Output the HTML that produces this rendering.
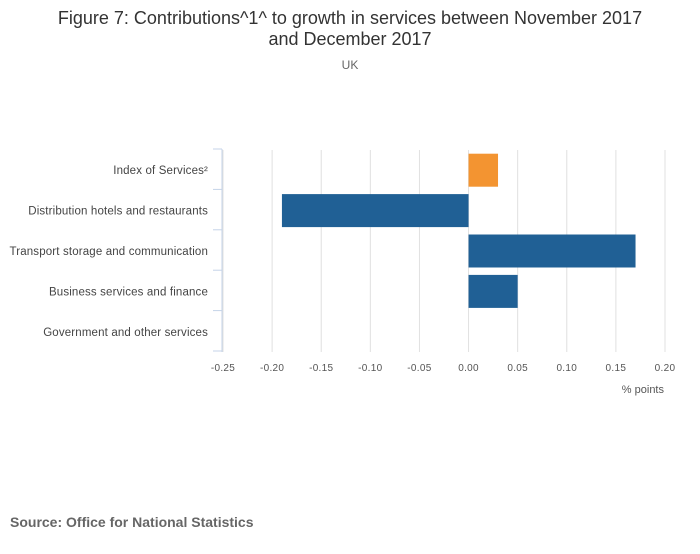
<!DOCTYPE html>
<html><head><meta charset="utf-8"><style>
body{margin:0;background:#fff;font-family:"Liberation Sans",sans-serif;}
</style></head><body>
<svg width="700" height="549" xmlns="http://www.w3.org/2000/svg">
<text x="350" y="24" text-anchor="middle" font-size="18" fill="#333">Figure 7: Contributions^1^ to growth in services between November 2017</text>
<text x="350" y="45" text-anchor="middle" font-size="18" fill="#333">and December 2017</text>
<text x="350" y="69" text-anchor="middle" font-size="12" fill="#666">UK</text>
<g id="grid"></g><g id="bars"></g><g id="axes"></g>
<text x="664" y="393" text-anchor="end" font-size="11" fill="#555">% points</text>
<text x="10" y="527" font-size="14" font-weight="bold" fill="#666">Source: Office for National Statistics</text>
</svg>
<script>
const categories=["Index of Services²","Distribution hotels and restaurants","Transport storage and communication","Business services and finance","Government and other services"];
const values=[0.03,-0.19,0.17,0.05,0];
const colors=["#f39431","#206095","#206095","#206095","#206095"];
const ticks=[-0.25,-0.2,-0.15,-0.1,-0.05,0,0.05,0.1,0.15,0.2];
const tickLabels=["-0.25","-0.20","-0.15","-0.10","-0.05","0.00","0.05","0.10","0.15","0.20"];
const NS="http://www.w3.org/2000/svg";
const x0=223,x1=665,yTop=150,yBot=352;
const xs=v=>x0+(v+0.25)/0.45*(x1-x0);
const band=(yBot-yTop)/categories.length;
function mk(t,a,p){const e=document.createElementNS(NS,t);for(const k in a)e.setAttribute(k,a[k]);document.getElementById(p).appendChild(e);return e;}
ticks.forEach((t,i)=>{
 const g=mk("line",{x1:xs(t),x2:xs(t),y1:yTop,y2:yBot,stroke:"#e0e0e0"},"grid");
 
 
 const l=mk("text",{x:xs(t),y:371,"text-anchor":"middle","font-size":"10","letter-spacing":"0.3",fill:"#555"},"axes");
 l.textContent=tickLabels[i];
 
 
});
const ax=mk("line",{x1:222,x2:222,y1:yTop-1,y2:yBot,stroke:"#c5d3e8"},"axes");


for(let i=0;i<=categories.length;i++){
 const tk=mk("line",{x1:213,x2:222,y1:yTop-1+i*band,y2:yTop-1+i*band,stroke:"#c5d3e8"},"axes");
 
 
}
categories.forEach((c,i)=>{
 const cy=yTop+band*(i+0.5);
 const t=mk("text",{x:208,y:cy+4,"text-anchor":"end","font-size":"11.5","letter-spacing":"0.15",fill:"#444"},"axes");
 t.textContent=c;
 
 
 const v=values[i];
 const b=mk("rect",{x:Math.min(xs(0),xs(v)),y:cy-16.5,width:Math.abs(xs(v)-xs(0)),height:33,fill:colors[i]},"bars");
 
 
});
</script>
</body></html>
